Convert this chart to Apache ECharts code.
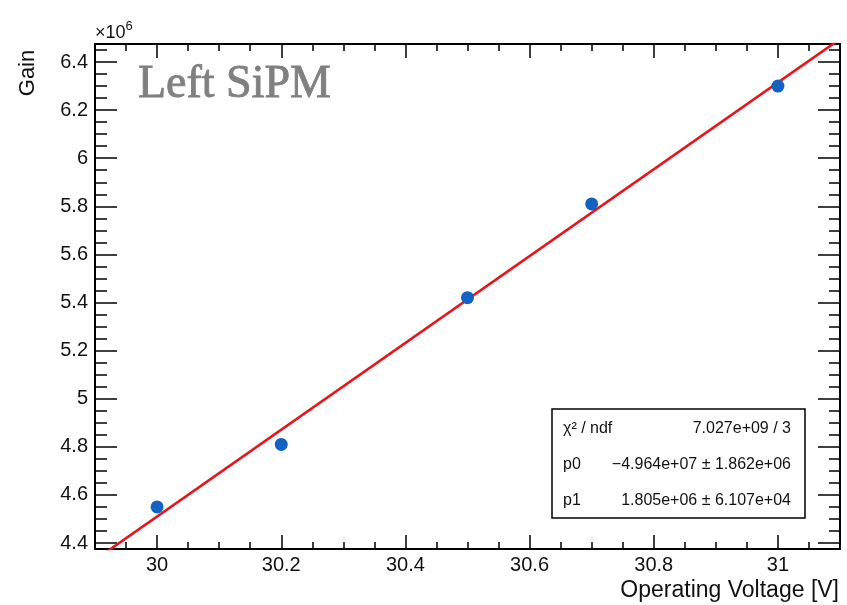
<!DOCTYPE html>
<html>
<head>
<meta charset="utf-8">
<script src="https://cdn.jsdelivr.net/npm/echarts@6/dist/echarts.min.js"></script>
<style>
  html, body { margin: 0; padding: 0; background: #ffffff; }
  #chart { width: 847px; height: 605px; }
</style>
</head>
<body>
<div id="chart"></div>
<script>
// Measured gain of the left SiPM versus operating voltage
const voltage = [30.0, 30.2, 30.5, 30.7, 31.0];
const gainE6 = [4.55, 4.81, 5.42, 5.81, 6.30];   // gain in units of 10^6

// Linear fit: gain = p0 + p1 * V
const fitP0 = -4.964e7;
const fitP1 = 1.805e6;

// Axis ranges and labelled ticks
const xRange = [29.9, 31.1];
const yRange = [4.375, 6.475];
const xTicks = [30, 30.2, 30.4, 30.6, 30.8, 31];
const yTicks = [4.4, 4.6, 4.8, 5, 5.2, 5.4, 5.6, 5.8, 6, 6.2, 6.4];

// Fit statistics box rows
const statsLabels = ['χ² / ndf', 'p0', 'p1'];
const statsValues = ['7.027e+09 / 3', '−4.964e+07 ± 1.862e+06', '1.805e+06 ± 6.107e+04'];

const FONT = '"Liberation Sans", Arial, Helvetica, sans-serif';

function steps(lo, hi, step) {
  const out = [];
  const n = Math.round((hi - lo) / step);
  for (let i = 0; i <= n; i++) out.push(Math.round((lo + i * step) * 1000) / 1000);
  return out;
}
const xMinor = steps(29.9, 31.1, 0.05).filter(v => xTicks.indexOf(v) < 0);
const yMinor = steps(4.4, 6.45, 0.05).filter(v => yTicks.indexOf(v) < 0);

const fitLine = xRange.map(v => [v, (fitP0 + fitP1 * v) / 1e6]);

function xAxisDef(position, ticks, len, main, labels) {
  return {
    type: 'value', position: position, min: xRange[0], max: xRange[1],
    axisLine: { show: main, onZero: false, lineStyle: { color: '#000', width: 2 } },
    axisTick: { show: true, inside: true, length: len, customValues: ticks,
                lineStyle: { color: '#000', width: 1.5 } },
    axisLabel: labels ? { show: true, customValues: ticks, margin: 6,
                          fontFamily: FONT, fontSize: 20, color: '#111',
                          formatter: v => String(v) } : { show: false },
    splitLine: { show: false }
  };
}
function yAxisDef(position, ticks, len, main, labels) {
  return {
    type: 'value', position: position, min: yRange[0], max: yRange[1],
    axisLine: { show: main, onZero: false, lineStyle: { color: '#000', width: 2 } },
    axisTick: { show: true, inside: true, length: len, customValues: ticks,
                lineStyle: { color: '#000', width: 1.5 } },
    axisLabel: labels ? { show: true, customValues: ticks, margin: 7,
                          fontFamily: FONT, fontSize: 20, color: '#111',
                          formatter: v => String(v) } : { show: false },
    splitLine: { show: false }
  };
}

const chart = echarts.init(document.getElementById('chart'), null, { renderer: 'canvas' });

const graphics = [
  { type: 'text', left: 95, top: 20, z: 10,
    style: { text: '{a|×10}{s|6}', rich: {
      a: { fontFamily: FONT, fontSize: 18, fill: '#111', verticalAlign: 'bottom', lineHeight: 22 },
      s: { fontFamily: FONT, fontSize: 13, fill: '#111', verticalAlign: 'top', lineHeight: 22, padding: [0, 0, 8, 0] }
    } } },
  { type: 'text', x: 28, y: 73, rotation: Math.PI / 2, z: 10,
    style: { text: 'Gain', fontFamily: FONT, fontSize: 22, fill: '#111',
             textAlign: 'center', textVerticalAlign: 'middle' } },
  { type: 'text', x: 839, y: 591, z: 10,
    style: { text: 'Operating Voltage [V]', fontFamily: FONT, fontSize: 23, fill: '#111',
             textAlign: 'right', textVerticalAlign: 'middle' } },
  { type: 'text', x: 138, y: 85, z: 10,
    style: { text: 'Left SiPM', fontFamily: '"Liberation Serif", "Times New Roman", serif',
             fontSize: 46, fill: '#808080', stroke: '#808080', lineWidth: 0.9,
             textAlign: 'left', textVerticalAlign: 'middle' } },
  { type: 'rect', shape: { x: 552, y: 409, width: 253, height: 109 }, z: 20,
    style: { fill: '#ffffff', stroke: '#000', lineWidth: 1.5 } }
];
const rowY = [429, 465, 501];
statsLabels.forEach((t, i) => {
  graphics.push({ type: 'text', x: 563, y: rowY[i], z: 21,
    style: { text: t, fontFamily: FONT, fontSize: 16, fill: '#111',
             textAlign: 'left', textVerticalAlign: 'middle' } });
  graphics.push({ type: 'text', x: 791, y: rowY[i], z: 21,
    style: { text: statsValues[i], fontFamily: FONT, fontSize: 16, fill: '#111',
             textAlign: 'right', textVerticalAlign: 'middle' } });
});

chart.setOption({
  animation: false,
  backgroundColor: '#ffffff',
  grid: { left: 95, right: 7, top: 44, bottom: 56, containLabel: false },
  xAxis: [
    xAxisDef('bottom', xTicks, 14, true, true),
    xAxisDef('bottom', xMinor, 7, false, false),
    xAxisDef('top', xTicks, 14, true, false),
    xAxisDef('top', xMinor, 7, false, false)
  ],
  yAxis: [
    yAxisDef('left', yTicks, 22, true, true),
    yAxisDef('left', yMinor, 12, false, false),
    yAxisDef('right', yTicks, 22, true, false),
    yAxisDef('right', yMinor, 11, false, false)
  ],
  series: [
    { type: 'line', name: 'fit', data: fitLine, xAxisIndex: 0, yAxisIndex: 0,
      showSymbol: false, symbol: 'none', clip: true,
      lineStyle: { color: '#e8141a', width: 2.6 }, z: 3 },
    { type: 'scatter', name: 'gain', xAxisIndex: 0, yAxisIndex: 0,
      data: voltage.map((v, i) => [v, gainE6[i]]),
      symbol: 'circle', symbolSize: 13,
      itemStyle: { color: '#1262c4', opacity: 1 }, z: 4 }
  ],
  graphic: graphics
});
</script>
</body>
</html>
